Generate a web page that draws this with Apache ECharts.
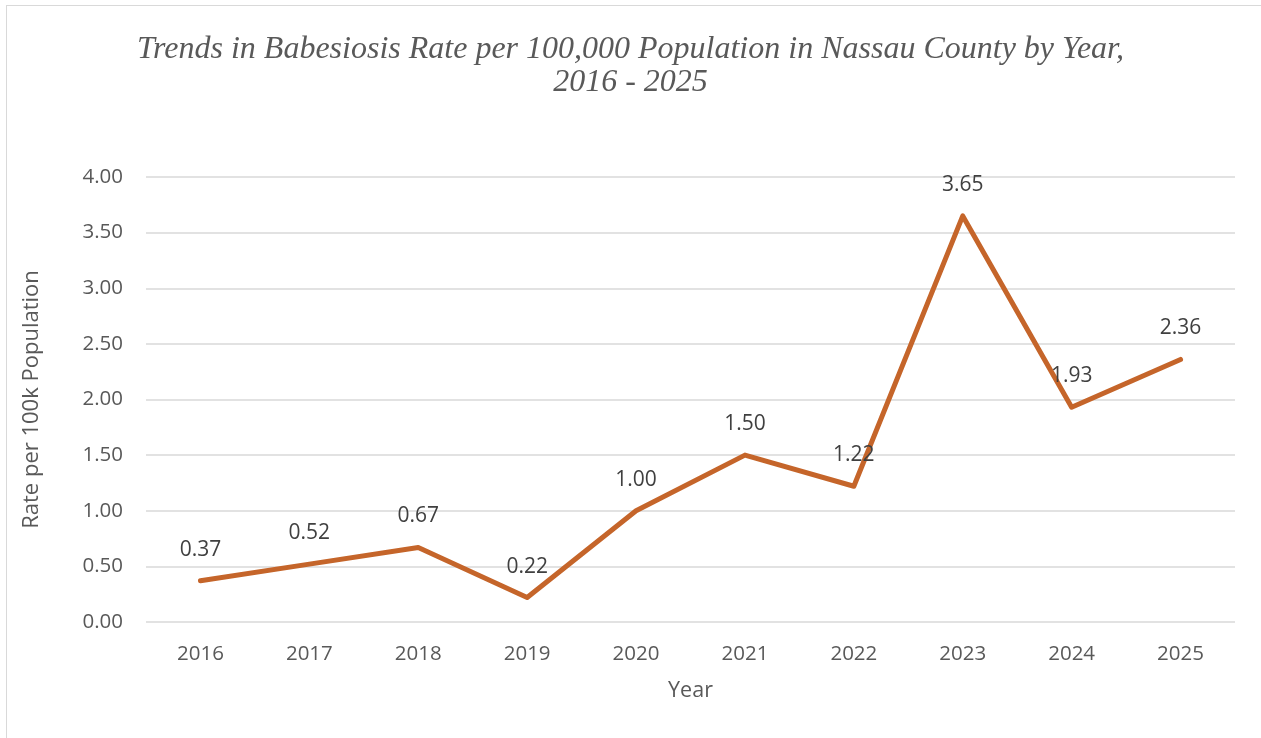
<!DOCTYPE html>
<html><head><meta charset="utf-8">
<script src="https://cdn.jsdelivr.net/npm/echarts@6/dist/echarts.min.js"></script>
<style>html,body{margin:0;padding:0;background:#fff}#c{width:1261px;height:738px}
#frame{position:absolute;left:6px;top:5px;width:1300px;height:800px;border:1.5px solid #d9d9d9;box-sizing:border-box;pointer-events:none}</style>
</head><body><div id="c"></div><div id="frame"></div>
<script>
const years = ['2016','2017','2018','2019','2020','2021','2022','2023','2024','2025'];
const rates = [0.37, 0.52, 0.67, 0.22, 1.00, 1.50, 1.22, 3.65, 1.93, 2.36];
const titleText = 'Trends in Babesiosis Rate per 100,000 Population in Nassau County by Year,\n2016 - 2025';
const chart = echarts.init(document.getElementById('c'));
chart.setOption({
  animation: false,
  backgroundColor: '#fff',
  title: {
    text: titleText, left: 'center', top: 28,
    textStyle: {fontFamily: 'Liberation Serif', fontStyle: 'italic', fontWeight: 'normal', fontSize: 32, color: '#595959', lineHeight: 33, align: 'center'}
  },
  grid: {left: 146, right: 26, top: 177, bottom: 116},
  xAxis: {
    type: 'category', data: years, boundaryGap: true,
    name: 'Year', nameLocation: 'middle', nameGap: 58,
    nameTextStyle: {fontFamily: 'Open Sans', fontSize: 21.5, color: '#595959'},
    axisLine: {show: false}, axisTick: {show: false},
    axisLabel: {fontFamily: 'Open Sans', fontSize: 20.5, color: '#595959', margin: 22}
  },
  yAxis: {
    type: 'value', min: 0, max: 4, interval: 0.5,
    name: 'Rate per 100k Population', nameLocation: 'middle', nameGap: 103, nameRotate: 90,
    nameTextStyle: {fontFamily: 'Open Sans', fontSize: 22, color: '#595959'},
    axisLine: {show: false}, axisTick: {show: false},
    axisLabel: {fontFamily: 'Open Sans', fontSize: 20.5, color: '#595959', margin: 23, formatter: v => v.toFixed(2)},
    splitLine: {lineStyle: {color: '#d9d9d9', width: 1.5}}
  },
  series: [{
    type: 'line', data: rates,
    symbol: 'circle', symbolSize: 1, itemStyle: {color: 'rgba(0,0,0,0)'},
    lineStyle: {color: '#C5652A', width: 5, cap: 'round', join: 'round'},
    label: {show: true, position: 'top', distance: 20, fontFamily: 'Open Sans', fontSize: 21, color: '#404040', formatter: p => p.value.toFixed(2)}
  }]
});
</script></body></html>
